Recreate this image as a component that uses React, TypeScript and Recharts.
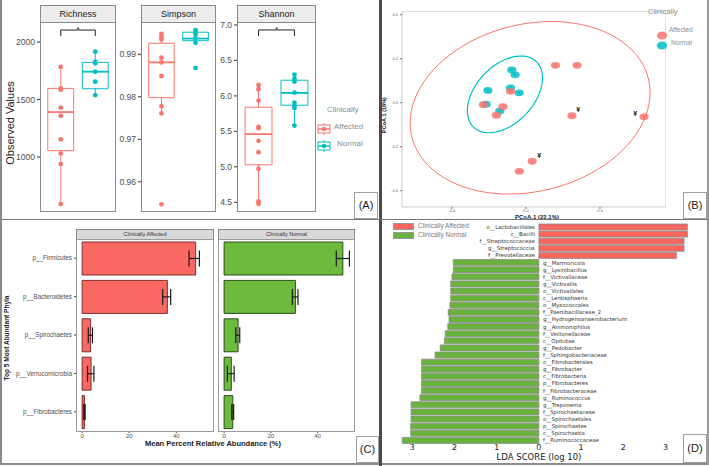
import React from 'react';
import {
  ComposedChart, ScatterChart, BarChart, Scatter, Bar, XAxis, YAxis,
  ReferenceArea, ReferenceLine, ReferenceDot, ErrorBar, LabelList, Cell,
} from 'recharts';

// ---------- (A) alpha diversity ----------
const richnessAffected = [1783, 1597, 1585, 1429, 1359, 1154, 1030, 939, 591];
const richnessNormal = [1916, 1829, 1815, 1742, 1655, 1539];
// [lower whisker, Q1, median, Q3, upper whisker] for Affected, Normal
const richnessBoxes = [[591, 1055, 1391, 1597, 1783], [1539, 1594, 1742, 1823, 1916]];
const richnessSig = [2104, 2052];
const richnessTicks = [1000, 1500, 2000];

const simpsonAffected = [0.9948, 0.9941, 0.9935, 0.9892, 0.9881, 0.9849, 0.9778, 0.9761, 0.9547];
const simpsonNormal = [0.9957, 0.9952, 0.9948, 0.9938, 0.9927, 0.9868];
const simpsonBoxes = [[0.9761, 0.9798, 0.9881, 0.9926, 0.9948], [0.9927, 0.9932, 0.9937, 0.9952, 0.9957]];
const simpsonTicks = [0.96, 0.97, 0.98, 0.99];

const shannonAffected = [6.155, 6.094, 5.934, 5.563, 5.545, 5.366, 5.207, 4.972, 4.511, 4.479];
const shannonNormal = [6.3, 6.244, 6.201, 6.046, 5.906, 5.859, 5.831, 5.582];
const shannonBoxes = [[4.479, 5.028, 5.461, 5.841, 6.155], [5.582, 5.869, 6.042, 6.221, 6.3]];
const shannonSig = [6.93, 6.845];
const shannonTicks = [4.5, 5.0, 5.5, 6.0, 6.5, 7.0];

// ---------- (B) PCoA ----------
const pcoaAffectedX = [0.16, 0.277, -0.083, -0.229, -0.124, -0.159, 0.249, 0.638, 0.034, -0.035];
const pcoaAffectedY = [0.17, 0.17, 0.052, -0.009, -0.018, -0.057, -0.059, -0.064, -0.266, -0.312];
const pcoaNormalX = [-0.076, -0.058, -0.205, -0.083, -0.036, -0.215, -0.141];
const pcoaNormalY = [0.149, 0.127, 0.056, 0.067, 0.045, -0.007, -0.038];
// stat_ellipse: centre, then the two half-axis vectors
const affectedEllipse = [[0.023, -0.023], [0.648, 0.069], [0, 0.386]];
const normalEllipse = [[-0.113, 0.038], [0.203, 0.074], [0, 0.158]];
const markX = [0.283, 0.591, 0.072];
const markY = [-0.033, -0.047, -0.238];

// ---------- (C) top 5 phyla ----------
const phyla = ['p__Firmicutes', 'p__Bacteroidetes', 'p__Spirochaetes', 'p__Verrucomicrobia', 'p__Fibrobacteres'];
const affectedMean = [48.2, 36.2, 3.6, 3.8, 1.0];
const affectedLow = [45.4, 34.2, 2.6, 2.3, 0.7];
const affectedHigh = [49.8, 37.6, 4.4, 5.0, 1.3];
const normalMean = [50.8, 30.5, 6.0, 3.1, 3.7];
const normalLow = [48.0, 29.2, 5.0, 1.4, 3.3];
const normalHigh = [53.6, 31.6, 6.7, 4.3, 4.1];

// ---------- (D) LEfSe ----------
const ldaAffectedTaxa = ['o__Lactobacillales', 'c__Bacilli', 'f__Streptococcaceae', 'g__Streptococcus', 'f__Prevotellaceae'];
const ldaAffected = [3.52, 3.52, 3.44, 3.44, 3.26];
const ldaNormalTaxa = [
  'g__Marmoricola', 'g__Lysinibacillus', 'f__Victivallaceae', 'g__Victivallis', 'o__Victivallales',
  'c__Lentisphaeria', 'o__Myxococcales', 'f__Paenibacillaceae_2', 'g__Hydrogenoanaerobacterium',
  'g__Ammoniphilus', 'f__Veillonellaceae', 'c__Opitutae', 'g__Pedobacter', 'f__Sphingobacteriaceae',
  'o__Fibrobacterales', 'g__Fibrobacter', 'c__Fibrobacteria', 'p__Fibrobacteres', 'f__Fibrobacteraceae',
  'g__Ruminococcus', 'g__Treponema', 'f__Spirochaetaceae', 'o__Spirochaetales', 'p__Spirochaetes',
  'c__Spirochaetia', 'f__Ruminococcaceae',
];
const ldaNormal = [2.03, 2.03, 2.06, 2.09, 2.09, 2.09, 2.11, 2.15, 2.13, 2.16, 2.22, 2.24, 2.34, 2.46,
  2.78, 2.78, 2.78, 2.78, 2.78, 2.82, 3.03, 3.03, 3.03, 3.04, 3.04, 3.24];
const ldaTicks = [-3, -2, -1, 0, 1, 2, 3];

const RED = '#F8766D';
const CYAN = '#00BFC4';
const FONT = '"Liberation Sans", Arial, sans-serif';
const MPL = '"DejaVu Sans", sans-serif';

const phylaAffected = phyla.map((p, i) => ({ phylum: p, mean: affectedMean[i], err: [affectedMean[i] - affectedLow[i], affectedHigh[i] - affectedMean[i]] }));
const phylaNormal = phyla.map((p, i) => ({ phylum: p, mean: normalMean[i], err: [normalMean[i] - normalLow[i], normalHigh[i] - normalMean[i]] }));
const ldaRows = [
  ...ldaAffectedTaxa.map((t, i) => ({ taxon: t, lda: ldaAffected[i] })),
  ...ldaNormalTaxa.map((t, i) => ({ taxon: t, lda: -ldaNormal[i] })),
];

function ellipsePoints(e: number[][]) {
  const pts = [];
  for (let k = 0; k <= 90; k++) {
    const t = (k / 90) * Math.PI * 2;
    pts.push({ x: e[0][0] + e[1][0] * Math.cos(t) + e[2][0] * Math.sin(t), y: e[0][1] + e[1][1] * Math.cos(t) + e[2][1] * Math.sin(t) });
  }
  return pts;
}

function Txt({ x, y, children, size = 9, color = '#222', rotate = 0, bold = false, family = FONT, anchor = 'center' }: any) {
  const tx = anchor === 'center' ? '-50%' : anchor === 'end' ? '-100%' : '0';
  return (
    <div style={{ position: 'absolute', left: x, top: y, transform: `translate(${tx}, -50%) rotate(${rotate}deg)`, fontSize: size, color, fontWeight: bold ? 700 : 400, fontFamily: family, whiteSpace: 'nowrap', lineHeight: 1 }}>
      {children}
    </div>
  );
}

function Box({ left, top, width, height, border = '#8a8a8a', bg = 'transparent', children, style }: any) {
  return (
    <div style={{ position: 'absolute', left, top, width, height, boxSizing: 'border-box', border: `1px solid ${border}`, background: bg, ...style }}>
      {children}
    </div>
  );
}

const alphaDot = (color: string) => (p: any) => <circle cx={p.cx} cy={p.cy} r={2.4} fill={color} />;

const PLOT_TOP = 22;
const PLOT_H = 190;
const AXIS_W = 40;
const PAD = 8;

function AlphaFacet({ left, width, title, affected, normal, boxes, sig, domain, ticks, digits }: any) {
  const groups = [affected, normal];
  const colors = [RED, CYAN];
  const hw = 0.375;
  return (
    <>
      <Box left={left} top={5} width={width} height={PLOT_TOP - 4} bg="#ececec" style={{ fontSize: 9, textAlign: 'center', lineHeight: '16px', color: '#1a1a1a' }}>{title}</Box>
      <div style={{ position: 'absolute', left: left - AXIS_W, top: PLOT_TOP - PAD }}>
        <ComposedChart width={AXIS_W + width} height={PLOT_H + 2 * PAD} margin={{ top: PAD, right: 0, bottom: PAD, left: 0 }}>
          <XAxis type="number" dataKey="x" domain={[0.4, 2.6]} hide allowDataOverflow />
          <YAxis type="number" dataKey="y" domain={domain} ticks={ticks} interval={0} allowDataOverflow width={AXIS_W}
            axisLine={false} tickSize={3} tickLine={{ stroke: '#333' }} tick={{ fontSize: 8.5, fill: '#4d4d4d' }}
            tickFormatter={(v: number) => v.toFixed(digits)} />
          {boxes.map((b: number[], i: number) => [
            <ReferenceLine key={`wl${i}`} segment={[{ x: i + 1, y: b[0] }, { x: i + 1, y: b[1] }]} stroke={colors[i]} strokeWidth={1} />,
            <ReferenceLine key={`wh${i}`} segment={[{ x: i + 1, y: b[3] }, { x: i + 1, y: b[4] }]} stroke={colors[i]} strokeWidth={1} />,
            <ReferenceArea key={`bx${i}`} x1={i + 1 - hw} x2={i + 1 + hw} y1={b[1]} y2={b[3]} fill="#fff" fillOpacity={0} stroke={colors[i]} strokeWidth={1} strokeOpacity={1} />,
            <ReferenceLine key={`md${i}`} segment={[{ x: i + 1 - hw, y: b[2] }, { x: i + 1 + hw, y: b[2] }]} stroke={colors[i]} strokeWidth={1.8} />,
          ])}
          {sig && [
            <ReferenceLine key="s0" segment={[{ x: 1, y: sig[0] }, { x: 2, y: sig[0] }]} stroke="#222" strokeWidth={1} />,
            <ReferenceLine key="s1" segment={[{ x: 1, y: sig[0] }, { x: 1, y: sig[1] }]} stroke="#222" strokeWidth={1} />,
            <ReferenceLine key="s2" segment={[{ x: 2, y: sig[0] }, { x: 2, y: sig[1] }]} stroke="#222" strokeWidth={1} />,
            <ReferenceDot key="s3" x={1.5} y={sig[0]} r={0} stroke="none" label={{ value: '*', position: 'top', offset: -2, fontSize: 8, fill: '#222' }} />,
          ]}
          {groups.map((g: number[], i: number) => (
            <Scatter key={`p${i}`} data={g.map(v => ({ x: i + 1, y: v }))} fill={colors[i]} shape={alphaDot(colors[i])} isAnimationActive={false} />
          ))}
        </ComposedChart>
      </div>
      <Box left={left} top={PLOT_TOP} width={width} height={PLOT_H} style={{ pointerEvents: 'none' }} />
    </>
  );
}

const pcoaDot = (color: string) => (p: any) => (
  <g>
    <ellipse cx={p.cx} cy={p.cy} rx={4.6} ry={3.4} fill={color} fillOpacity={0.85} />
    <circle cx={p.cx} cy={p.cy} r={1} fill={color} />
  </g>
);

function LdaLabel(props: any) {
  const { x, y, width, height, value } = props;
  const row = ldaRows.find(r => r.taxon === value);
  const pos = row ? row.lda >= 0 : true;
  const x0 = pos ? Math.min(x, x + width) : Math.max(x, x + width);
  return (
    <text x={pos ? x0 - 4 : x0 + 4} y={y + height / 2} textAnchor={pos ? 'end' : 'start'} dominantBaseline="central" fontSize={5.4} fill="#333" fontFamily={MPL}>
      {value}
    </text>
  );
}

function LegendKey({ color }: any) {
  return (
    <svg width={14} height={12}>
      <line x1={7} y1={0} x2={7} y2={12} stroke={color} strokeWidth={1} />
      <rect x={1} y={2} width={12} height={8} fill="#fff" stroke={color} strokeWidth={1} />
      <line x1={1} y1={6} x2={13} y2={6} stroke={color} strokeWidth={1.5} />
      <circle cx={7} cy={6} r={2.3} fill={color} />
    </svg>
  );
}

function PcoaKey({ color }: any) {
  return (
    <svg width={12} height={9}>
      <ellipse cx={6} cy={4.5} rx={5.2} ry={4} fill={color} fillOpacity={0.85} />
    </svg>
  );
}

export default function App() {
  const cAxisTick = { fontSize: 6, fill: '#4d4d4d' };
  return (
    <div style={{ position: 'absolute', left: 0, top: 0, width: 709, height: 466, background: '#fff', overflow: 'hidden', fontFamily: FONT }}>
      {/* ---------- (A) ---------- */}
      <Txt x={10} y={123} size={11} rotate={-90} color="#1a1a1a">Observed Values</Txt>
      <AlphaFacet left={40} width={76} title="Richness" affected={richnessAffected} normal={richnessNormal}
        boxes={richnessBoxes} sig={richnessSig} domain={[522, 2174]} ticks={richnessTicks} digits={0} />
      <AlphaFacet left={141} width={75} title="Simpson" affected={simpsonAffected} normal={simpsonNormal}
        boxes={simpsonBoxes} domain={[0.9529, 0.9976]} ticks={simpsonTicks} digits={2} />
      <AlphaFacet left={237} width={79} title="Shannon" affected={shannonAffected} normal={shannonNormal}
        boxes={shannonBoxes} sig={shannonSig} domain={[4.363, 7.042]} ticks={shannonTicks} digits={1} />
      <Txt x={327} y={110} size={8} color="#8c8c8c" anchor="start">Clinically</Txt>
      <div style={{ position: 'absolute', left: 317, top: 121 }}><LegendKey color={RED} /></div>
      <div style={{ position: 'absolute', left: 317, top: 138 }}><LegendKey color={CYAN} /></div>
      <Txt x={334} y={127} size={8} color="#8c8c8c" anchor="start">Affected</Txt>
      <Txt x={337} y={144} size={8} color="#8c8c8c" anchor="start">Normal</Txt>

      {/* ---------- (B) ---------- */}
      <div style={{ position: 'absolute', left: 388, top: 0 }}>
        <ScatterChart width={278} height={216} margin={{ top: 11, right: 0, bottom: 0, left: 0 }}>
          <XAxis type="number" dataKey="x" domain={[-0.669, 0.757]} ticks={[-0.4, 0, 0.4]} interval={0} allowDataOverflow height={9}
            axisLine={{ stroke: '#d0d0d0' }} tickSize={2} tickMargin={0} tickLine={{ stroke: '#777' }} tick={{ fontSize: 4, fill: '#666' }}
            tickFormatter={(v: number) => v.toFixed(1)} />
          <YAxis type="number" dataKey="y" domain={[-0.474, 0.417]} ticks={[-0.4, -0.2, 0, 0.2, 0.4]} interval={0} allowDataOverflow width={14}
            axisLine={{ stroke: '#d0d0d0' }} tickSize={2} tickLine={{ stroke: '#777' }} tick={{ fontSize: 4, fill: '#666' }}
            tickFormatter={(v: number) => v.toFixed(1)} />
          <Scatter data={ellipsePoints(affectedEllipse)} line={{ stroke: RED, strokeWidth: 1 }} shape={() => <g />} isAnimationActive={false} />
          <Scatter data={ellipsePoints(normalEllipse)} line={{ stroke: CYAN, strokeWidth: 1.2 }} shape={() => <g />} isAnimationActive={false} />
          <Scatter data={pcoaNormalX.map((x, i) => ({ x, y: pcoaNormalY[i] }))} shape={pcoaDot(CYAN)} isAnimationActive={false} />
          <Scatter data={pcoaAffectedX.map((x, i) => ({ x, y: pcoaAffectedY[i] }))} shape={pcoaDot(RED)} isAnimationActive={false} />
          {markX.map((x, i) => (
            <ReferenceDot key={i} x={x} y={markY[i]} r={0} stroke="none" label={{ value: '¥', position: 'center', fontSize: 7, fontWeight: 700, fill: '#222' }} />
          ))}
        </ScatterChart>
      </div>
      <Box left={402} top={11} width={264} height={196} border="#e2e2e2" style={{ pointerEvents: 'none' }} />
      <Txt x={537} y={216.5} size={6} bold color="#222">PCoA.1 (22.1%)</Txt>
      <Txt x={385} y={115} size={5.5} bold rotate={-90} color="#222">PCoA.1 (18%)</Txt>
      <Txt x={648} y={12} size={7.5} color="#8c8c8c" anchor="start">Clinically</Txt>
      <div style={{ position: 'absolute', left: 656, top: 26 }}><PcoaKey color={RED} /></div>
      <div style={{ position: 'absolute', left: 656, top: 36 }}><PcoaKey color={CYAN} /></div>
      <Txt x={669} y={29.5} size={6.5} color="#8c8c8c" anchor="start">Affected</Txt>
      <Txt x={671} y={42.5} size={6.5} color="#8c8c8c" anchor="start">Normal</Txt>

      {/* ---------- (C) ---------- */}
      <Box left={76} top={229} width={138} height={11} bg="#d9d9d9" style={{ fontSize: 5.5, textAlign: 'center', lineHeight: '9px', color: '#333' }}>Clinically Affected</Box>
      <Box left={218} top={229} width={137} height={11} bg="#d9d9d9" style={{ fontSize: 5.5, textAlign: 'center', lineHeight: '9px', color: '#333' }}>Clinically Normal</Box>
      <div style={{ position: 'absolute', left: 0, top: 239 }}>
        <BarChart layout="vertical" data={phylaAffected} width={214} height={204} margin={{ top: 0, right: 0, bottom: 0, left: 0 }}>
          <XAxis type="number" domain={[-2.6, 56]} ticks={[0, 20, 40]} interval={0} allowDataOverflow height={12}
            axisLine={false} tickSize={2} tickMargin={1} tickLine={{ stroke: '#444' }} tick={cAxisTick} />
          <YAxis type="category" dataKey="phylum" width={76} axisLine={false} tickSize={2} tickMargin={2}
            tickLine={{ stroke: '#444' }} tick={{ fontSize: 6.3, fill: '#4d4d4d' }} interval={0} />
          <Bar dataKey="mean" fill="#FA6862" stroke="#6b2320" strokeWidth={0.9} barSize={33} isAnimationActive={false}>
            <ErrorBar dataKey="err" direction="x" width={8} stroke="#1a1a1a" strokeWidth={1.2} />
          </Bar>
        </BarChart>
      </div>
      <div style={{ position: 'absolute', left: 218, top: 239 }}>
        <BarChart layout="vertical" data={phylaNormal} width={137} height={204} margin={{ top: 0, right: 0, bottom: 0, left: 0 }}>
          <XAxis type="number" domain={[-2.6, 56]} ticks={[0, 20, 40]} interval={0} allowDataOverflow height={12}
            axisLine={false} tickSize={2} tickMargin={1} tickLine={{ stroke: '#444' }} tick={cAxisTick} />
          <YAxis type="category" dataKey="phylum" hide />
          <Bar dataKey="mean" fill="#6CBB3C" stroke="#1f3a10" strokeWidth={0.9} barSize={33} isAnimationActive={false}>
            <ErrorBar dataKey="err" direction="x" width={8} stroke="#1a1a1a" strokeWidth={1.2} />
          </Bar>
        </BarChart>
      </div>
      <Box left={76} top={239} width={138} height={193} border="#9a9a9a" style={{ pointerEvents: 'none' }} />
      <Box left={218} top={239} width={137} height={193} border="#9a9a9a" style={{ pointerEvents: 'none' }} />
      <Txt x={7} y={338} size={6.5} bold rotate={-90} color="#1a1a1a">Top 5 Most Abundant Phyla</Txt>
      <Txt x={213} y={444} size={7.5} bold color="#1a1a1a">Mean Percent Relative Abundance (%)</Txt>

      {/* ---------- (D) ---------- */}
      <div style={{ position: 'absolute', left: 387.1, top: 223.1, fontFamily: MPL }}>
        <BarChart layout="vertical" data={ldaRows} width={303.8} height={234.5} margin={{ top: 0, right: 0, bottom: 0, left: 0 }} barCategoryGap={1}>
          <XAxis type="number" domain={[-3.6, 3.6]} ticks={ldaTicks} interval={0} allowDataOverflow height={14}
            axisLine={false} tickLine={false} tickSize={0} tickMargin={1} tick={{ fontSize: 8, fill: '#222' }}
            tickFormatter={(v: number) => String(Math.abs(v))} />
          <YAxis type="category" dataKey="taxon" hide />
          <Bar dataKey="lda" barSize={6} stroke="#8c8c8c" strokeWidth={0.8} isAnimationActive={false}>
            {ldaRows.map((r, i) => <Cell key={i} fill={r.lda >= 0 ? '#F8665E' : '#69B33C'} />)}
            <LabelList dataKey="taxon" content={LdaLabel} />
          </Bar>
        </BarChart>
      </div>
      <Txt x={539} y={457} size={8.5} color="#222" family={MPL}>LDA SCORE (log 10)</Txt>
      <div style={{ position: 'absolute', left: 393, top: 223, width: 19, height: 5, background: '#F8665E', border: '0.5px solid #999' }} />
      <div style={{ position: 'absolute', left: 393, top: 232, width: 19, height: 5, background: '#69B33C', border: '0.5px solid #999' }} />
      <Txt x={418} y={225.5} size={6.5} color="#7a7a7a" anchor="start">Clinically Affected</Txt>
      <Txt x={418} y={234.5} size={6.5} color="#7a7a7a" anchor="start">Clinically Normal</Txt>

      {/* ---------- frame ---------- */}
      <div style={{ position: 'absolute', left: 0, top: 0, width: 2, height: 465, background: '#8a8a8a' }} />
      <div style={{ position: 'absolute', left: 0, top: 463, width: 709, height: 2, background: '#8a8a8a' }} />
      <div style={{ position: 'absolute', left: 707, top: 0, width: 2, height: 465, background: '#9a9a9a' }} />
      <div style={{ position: 'absolute', left: 378.5, top: 0, width: 3, height: 466, background: '#4a4a4a' }} />
      <div style={{ position: 'absolute', left: 0, top: 218.5, width: 709, height: 1.5, background: '#777' }} />
      <Box left={354} top={192} width={24} height={27} border="#a0a0a0" bg="#fff" style={{ fontSize: 11, textAlign: 'center', lineHeight: '25px', color: '#222' }}>(A)</Box>
      <Box left={683} top={192} width={24} height={27} border="#a0a0a0" bg="#fff" style={{ fontSize: 11, textAlign: 'center', lineHeight: '25px', color: '#222' }}>(B)</Box>
      <Box left={356} top={436} width={23} height={27} border="#a0a0a0" bg="#fff" style={{ fontSize: 11, textAlign: 'center', lineHeight: '25px', color: '#222' }}>(C)</Box>
      <Box left={683} top={434} width={24} height={29} border="#a0a0a0" bg="#fff" style={{ fontSize: 11, textAlign: 'center', lineHeight: '27px', color: '#222' }}>(D)</Box>
    </div>
  );
}
